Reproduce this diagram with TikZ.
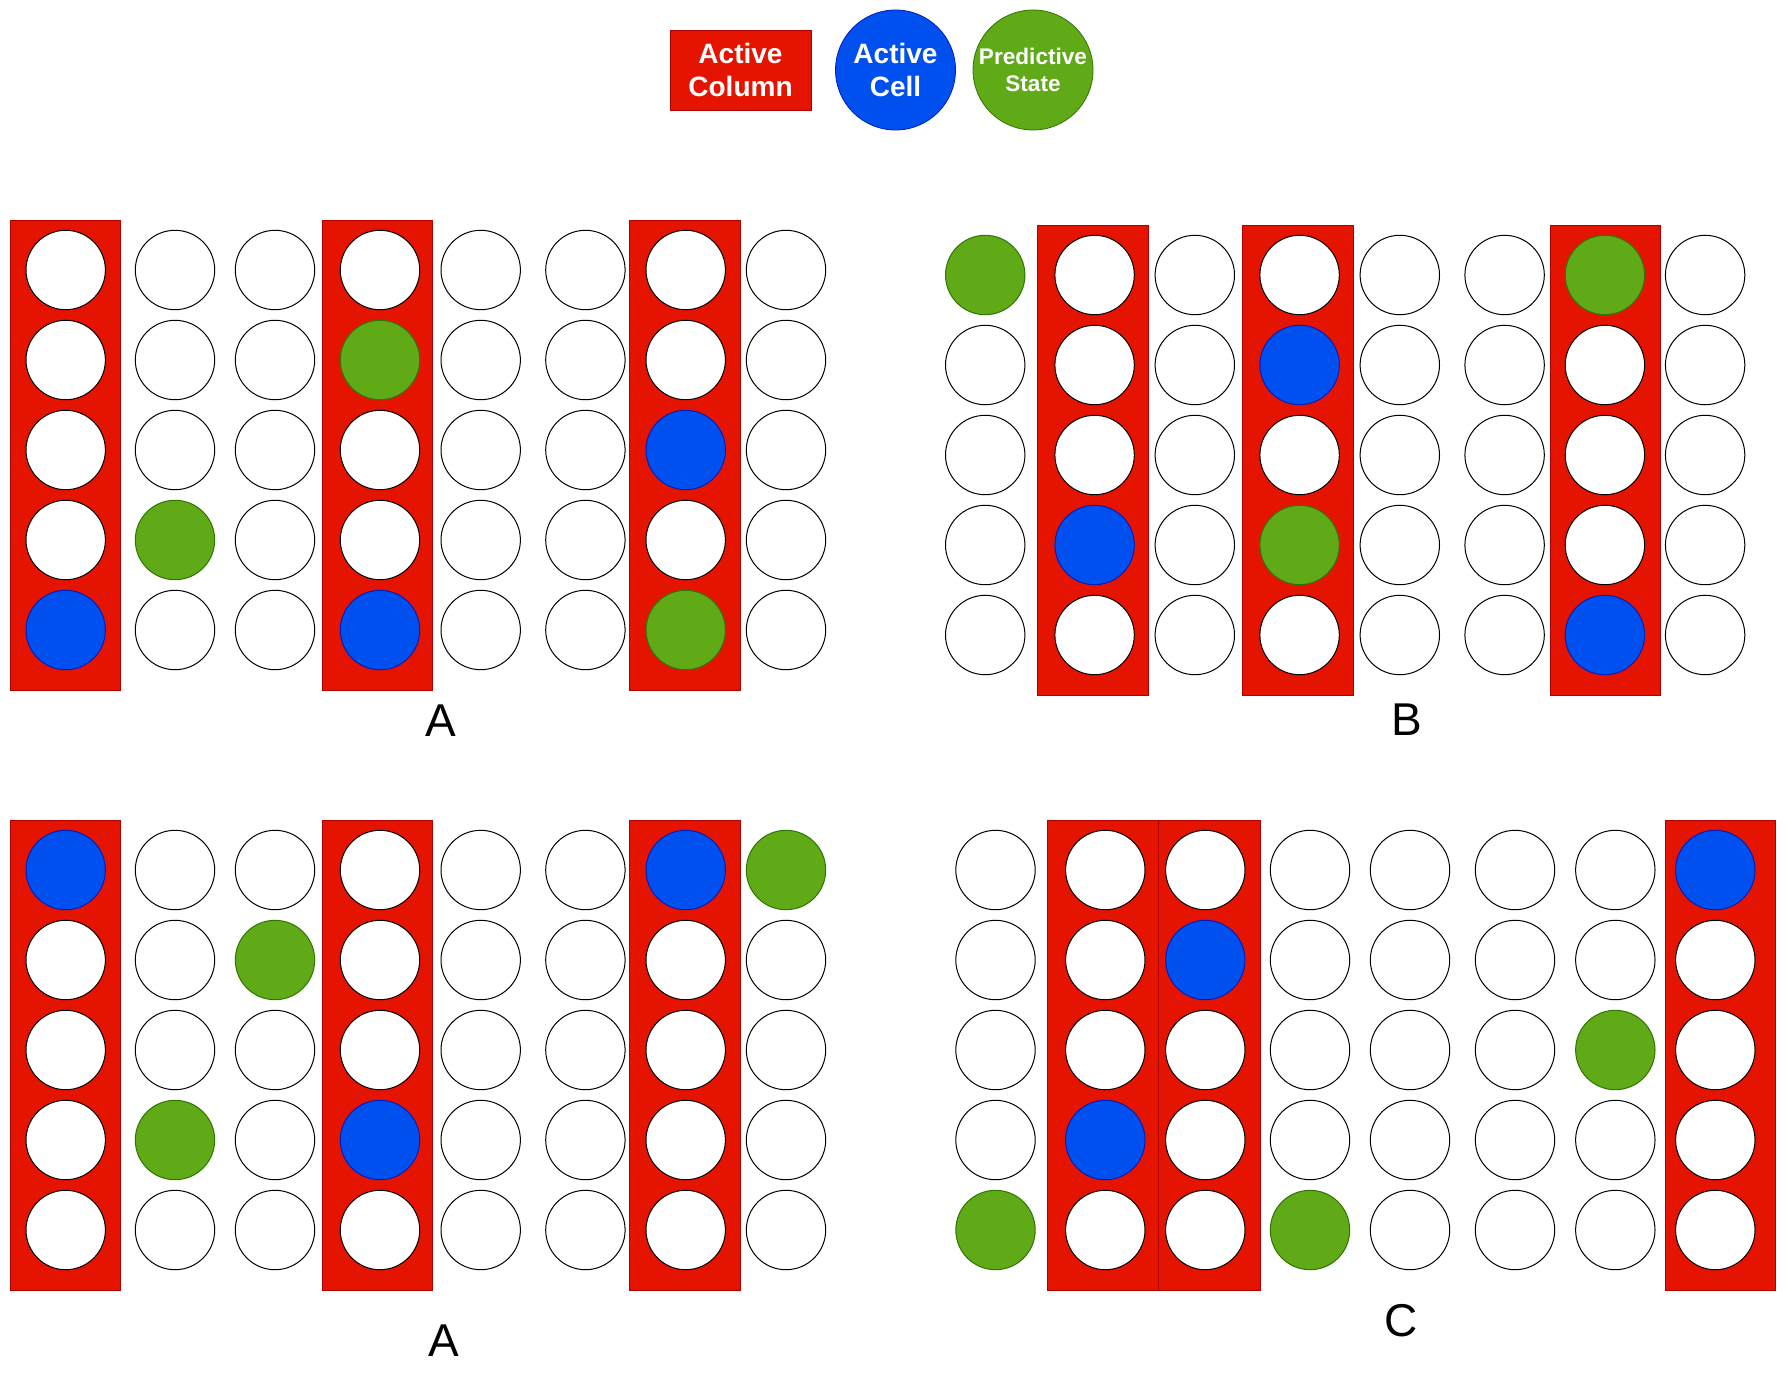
\documentclass[tikz,border=0pt]{standalone}
\usepackage{fontspec}
\setmainfont{Liberation Sans}
\definecolor{colred}{HTML}{E51400}
\definecolor{colredline}{HTML}{B20000}
\definecolor{cellblue}{HTML}{0050EF}
\definecolor{cellblueline}{HTML}{001DBC}
\definecolor{cellgreen}{HTML}{60A917}
\definecolor{cellgreenline}{HTML}{2D7600}
\tikzset{
  column/.style={rectangle, fill=colred, draw=colredline, line width=0.5pt,
    minimum width=55.3pt, minimum height=235pt, inner sep=0pt},
  cell/.style={circle, draw=black, line width=0.5pt, fill=white,
    minimum size=39.7pt, inner sep=0pt},
  w/.style={},
  g/.style={fill=cellgreen, draw=cellgreenline},
  b/.style={fill=cellblue, draw=cellblueline},
  tag/.style={font=\fontsize{23}{27}\selectfont, inner sep=0pt},
  key/.style={text=white, align=center, font=\bfseries\fontsize{14}{16.5}\selectfont}
}
\begin{document}
\begin{tikzpicture}[x=0.5pt,y=-0.5pt]
  \useasboundingbox (0,0) rectangle (1786,1381);

  % legend
  \node[key, rectangle, fill=colred, draw=colredline, line width=0.5pt,
    minimum width=70.5pt, minimum height=40pt] (keycol) at (740.5,70) {Active\\Column};
  \node[key, circle, fill=cellblue, draw=cellblueline, minimum size=60pt,
    inner sep=0pt] (keyact) at (895.5,70) {Active\\Cell};
  \node[key, circle, fill=cellgreen, draw=cellgreenline, minimum size=60pt,
    inner sep=0pt, font=\bfseries\fontsize{11.3}{13.5}\selectfont] (keypred) at (1033,70) {Predictive\\State};

  % top left
  \node[column] (tl-c1) at (65.4,455) {};
  \node[column] (tl-c4) at (377.5,455) {};
  \node[column] (tl-c7) at (685.2,455) {};
  \foreach \y/\row [count=\r] in {270/{w,w,w,w,w,w,w,w}, 360/{w,w,w,g,w,w,w,w},
      450/{w,w,w,w,w,w,b,w}, 540/{w,g,w,w,w,w,w,w}, 630/{b,w,w,b,w,w,g,w}}
    \foreach \c [count=\k] in \row {
      \pgfmathsetmacro\x{{65.7,175,275,380,480.7,585.4,685.7,786}[\k-1]}
      \node[cell,\c] (tl-\r-\k) at (\x,\y) {};
    }
  \node[tag] (tl-tag) at (440.7,721) {A};

  % top right
  \node[column] (tr-c2) at (1092.8,460) {};
  \node[column] (tr-c4) at (1297.8,460) {};
  \node[column] (tr-c7) at (1605.3,460) {};
  \foreach \y/\row [count=\r] in {275/{g,w,w,w,w,w,g,w}, 365/{w,w,w,b,w,w,w,w},
      455/{w,w,w,w,w,w,w,w}, 545/{w,b,w,g,w,w,w,w}, 635/{w,w,w,w,w,w,b,w}}
    \foreach \c [count=\k] in \row {
      \pgfmathsetmacro\x{{985.2,1094.6,1194.8,1299.6,1399.8,1504.6,1604.9,1705.1}[\k-1]}
      \node[cell,\c] (tr-\r-\k) at (\x,\y) {};
    }
  \node[tag] (tr-tag) at (1406.7,720) {B};

  % bottom left
  \node[column] (bl-c1) at (65.4,1055) {};
  \node[column] (bl-c4) at (377.5,1055) {};
  \node[column] (bl-c7) at (685.2,1055) {};
  \foreach \y/\row [count=\r] in {870/{b,w,w,w,w,w,b,g}, 960/{w,w,g,w,w,w,w,w},
      1050/{w,w,w,w,w,w,w,w}, 1140/{w,g,w,b,w,w,w,w}, 1230/{w,w,w,w,w,w,w,w}}
    \foreach \c [count=\k] in \row {
      \pgfmathsetmacro\x{{65.7,175,275,380,480.7,585.4,685.7,786}[\k-1]}
      \node[cell,\c] (bl-\r-\k) at (\x,\y) {};
    }
  \node[tag] (bl-tag) at (444,1341) {A};

  % bottom right
  \node[column] (br-c2) at (1102.7,1055) {};
  \node[column, minimum width=51.3pt] (br-c3) at (1209.4,1055) {};
  \node[column] (br-c8) at (1720.4,1055) {};
  \foreach \y/\row [count=\r] in {870/{w,w,w,w,w,w,w,b}, 960/{w,w,b,w,w,w,w,w},
      1050/{w,w,w,w,w,w,g,w}, 1140/{w,b,w,w,w,w,w,w}, 1230/{g,w,w,g,w,w,w,w}}
    \foreach \c [count=\k] in \row {
      \pgfmathsetmacro\x{{995.5,1105.3,1205.3,1310,1410,1515,1615.3,1715.3}[\k-1]}
      \node[cell,\c] (br-\r-\k) at (\x,\y) {};
    }
  \node[tag] (br-tag) at (1400.7,1321) {C};
\end{tikzpicture}
\end{document}
